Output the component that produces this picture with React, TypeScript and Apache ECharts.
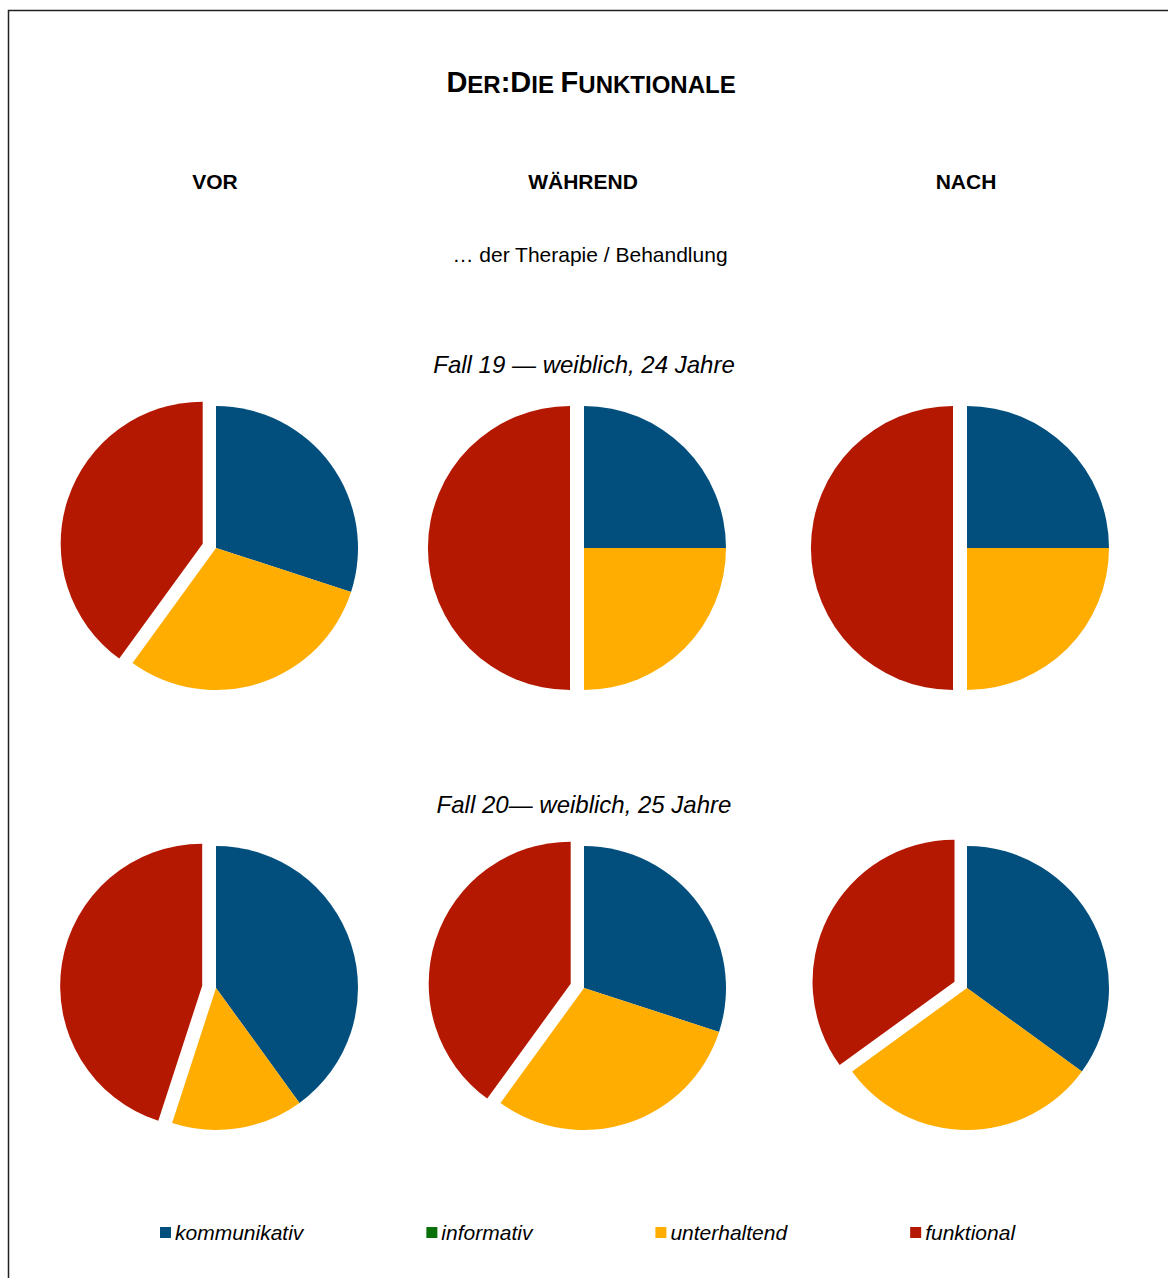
import React, { useEffect, useRef } from "react";
import * as echarts from "echarts";

const categories = ["kommunikativ", "informativ", "unterhaltend", "funktional"];
const colors = ["#024F7E", "#0A700A", "#FFAD00", "#B41800"];
const phases = ["VOR", "WÄHREND", "NACH"];
const caseTitles = ["Fall 19 — weiblich, 24 Jahre", "Fall 20— weiblich, 25 Jahre"];
const subtitle = "… der Therapie / Behandlung";

const fall19Vor = [30, 0, 30, 40];
const fall19Waehrend = [25, 0, 25, 50];
const fall19Nach = [25, 0, 25, 50];
const fall20Vor = [40, 0, 15, 45];
const fall20Waehrend = [30, 0, 30, 40];
const fall20Nach = [35, 0, 30, 35];

const explodedCategory = "funktional";

const rows = [
  [fall19Vor, fall19Waehrend, fall19Nach],
  [fall20Vor, fall20Waehrend, fall20Nach],
];

const colX = [216, 584, 967];
const rowY = [548, 988];
const headerX = [215, 583, 966];
const FONT = "'Liberation Sans', Arial, sans-serif";

export default function App() {
  const ref = useRef<HTMLDivElement>(null);
  useEffect(() => {
    if (!ref.current) return;
    const chart = echarts.init(ref.current, null, { renderer: "svg" });
    const series: any[] = [];
    rows.forEach((row, r) => {
      row.forEach((vals, c) => {
        series.push({
          type: "pie",
          name: `${caseTitles[r]} ${phases[c]}`,
          center: [colX[c], rowY[r]],
          radius: 142,
          startAngle: 90,
          clockwise: true,
          selectedMode: "multiple",
          selectedOffset: 14,
          silent: true,
          label: { show: false },
          labelLine: { show: false },
          emphasis: { disabled: true },
          itemStyle: { borderWidth: 0 },
          data: categories.map((name, i) => ({
            name,
            value: vals[i],
            selected: name === explodedCategory,
            itemStyle: { color: colors[i] },
          })),
        });
      });
    });

    const graphics: any[] = [
      {
        type: "rect",
        shape: { x: 8.5, y: 10.5, width: 1200, height: 1300 },
        style: { fill: "none", stroke: "#222", lineWidth: 1.5 },
        silent: true,
      },
      {
        type: "text",
        x: 591,
        y: 81,
        style: {
          text: "{b|D}{s|ER}{b|:D}{s|IE }{b|F}{s|UNKTIONALE}",
          align: "center",
          verticalAlign: "middle",
          rich: {
            b: {
              fontFamily: FONT,
              fontWeight: "bold",
              fontSize: 29,
              lineHeight: 30,
              verticalAlign: "bottom",
              fill: "#000",
            },
            s: {
              fontFamily: FONT,
              fontWeight: "bold",
              fontSize: 24,
              lineHeight: 30,
              verticalAlign: "bottom",
              fill: "#000",
            },
          },
        },
      },
      ...phases.map((p, i) => ({
        type: "text",
        x: headerX[i],
        y: 181,
        style: {
          text: p,
          align: "center",
          verticalAlign: "middle",
          fontFamily: FONT,
          fontWeight: "bold",
          fontSize: 21,
          fill: "#000",
        },
      })),
      {
        type: "text",
        x: 590,
        y: 254,
        style: {
          text: subtitle,
          align: "center",
          verticalAlign: "middle",
          fontFamily: FONT,
          fontSize: 21,
          fill: "#000",
        },
      },
      ...caseTitles.map((t, i) => ({
        type: "text",
        x: 584,
        y: i === 0 ? 364 : 804,
        style: {
          text: t,
          align: "center",
          verticalAlign: "middle",
          fontFamily: FONT,
          fontStyle: "italic",
          fontSize: 24,
          fill: "#000",
        },
      })),
    ];

    chart.setOption({
      animation: false,
      backgroundColor: "#fff",
      legend: {
        data: categories,
        left: 160,
        top: 1222,
        padding: 0,
        orient: "horizontal",
        icon: "rect",
        itemWidth: 11,
        itemHeight: 11,
        itemGap: 123,
        selectedMode: false,
        textStyle: {
          fontFamily: FONT,
          fontStyle: "italic",
          fontSize: 21,
          color: "#000",
          padding: [0, 0, 0, -1],
        },
      },
      graphic: graphics,
      series,
    });
    return () => chart.dispose();
  }, []);
  return (
    <div
      ref={ref}
      style={{ position: "absolute", left: 0, top: 0, width: 1168, height: 1278 }}
    />
  );
}
